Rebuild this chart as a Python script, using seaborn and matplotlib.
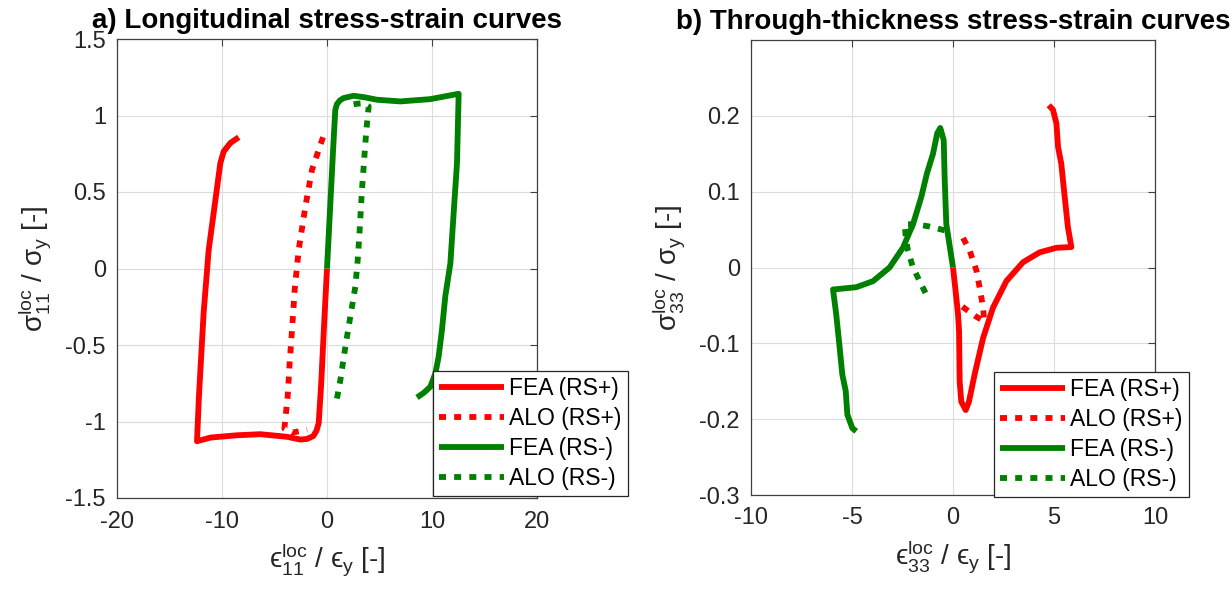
import numpy as np
import pandas as pd
import matplotlib
matplotlib.use("Agg")
import matplotlib.pyplot as plt
from matplotlib.ticker import FuncFormatter
import seaborn as sns

# ---------------- data ----------------
# a) longitudinal
a_fea_p_x = [0, -0.3, -0.55, -0.79, -1.0, -1.3, -1.9, -2.54, -3.8, -6.35, -8.57, -11.1, -12.38,
             -12.2, -11.75, -11.27, -10.8, -10.16, -9.84, -9.21, -8.41]
a_fea_p_y = [0, -0.4, -0.75, -1.01, -1.06, -1.095, -1.114, -1.118, -1.10, -1.083, -1.09, -1.105,
             -1.129, -0.84, -0.29, 0.12, 0.36, 0.688, 0.765, 0.82, 0.858]
a_alo_p_x = [-0.38, -1.43, -2.06, -2.7, -3.08, -3.33, -3.56, -3.75, -4.06, -3.33, -1.9]
a_alo_p_y = [0.858, 0.645, 0.405, 0.12, -0.14, -0.40, -0.62, -0.84, -1.046, -1.073, -1.053]
a_fea_m_x = [0, 0.3, 0.6, 0.79, 0.95, 1.25, 1.59, 2.54, 3.5, 4.76, 6.98, 9.84, 12.54,
             12.38, 12.06, 11.75, 11.27, 10.95, 10.63, 10.32, 9.84, 9.21, 8.57]
a_fea_m_y = [0, 0.4, 0.8, 1.037, 1.075, 1.10, 1.114, 1.129, 1.12, 1.103, 1.092, 1.107, 1.142,
             0.688, 0.36, 0.034, -0.18, -0.40, -0.577, -0.686, -0.773, -0.813, -0.843]
a_alo_m_x = [0.95, 1.27, 1.75, 2.22, 2.70, 2.95, 3.11, 3.33, 3.56, 3.75, 3.97, 3.49, 2.86, 1.9]
a_alo_m_y = [-0.85, -0.73, -0.51, -0.315, -0.118, 0.077, 0.252, 0.514, 0.732, 0.907, 1.06,
             1.081, 1.077, 1.064]

# b) through-thickness
b_fea_p_x = [0, 0.165, 0.25, 0.3, 0.33, 0.41, 0.63, 0.79, 1.07, 1.49, 1.98, 2.64, 3.47, 4.29,
             5.12, 5.86, 5.69, 5.53, 5.36, 5.2, 5.12, 4.95, 4.74]
b_fea_p_y = [0, -0.040, -0.062, -0.084, -0.15, -0.177, -0.188, -0.177, -0.141, -0.093, -0.053,
             -0.018, 0.007, 0.020, 0.026, 0.027, 0.053, 0.093, 0.137, 0.159, 0.19, 0.208, 0.214]
b_alo_p_x = [0.5, 0.83, 1.16, 1.35, 1.49, 1.55, 1.16, 0.74, 0.33]
b_alo_p_y = [0.039, 0.022, -0.004, -0.031, -0.053, -0.071, -0.065, -0.057, -0.049]
b_fea_m_x = [0, -0.33, -0.41, -0.46, -0.63, -0.78, -0.99, -1.29, -1.57, -1.98, -2.48, -3.14,
             -3.96, -4.79, -5.94, -5.78, -5.61, -5.48, -5.31, -5.23, -4.98, -4.79]
b_fea_m_y = [0, 0.057, 0.115, 0.168, 0.184, 0.177, 0.150, 0.124, 0.093, 0.057, 0.026, 0.0,
             -0.018, -0.026, -0.029, -0.062, -0.106, -0.141, -0.163, -0.194, -0.212, -0.216]
b_alo_m_x = [-0.41, -1.16, -1.82, -2.39, -2.34, -2.23, -1.98, -1.65, -1.24]
b_alo_m_y = [0.049, 0.054, 0.057, 0.057, 0.040, 0.022, 0.0, -0.018, -0.040]

labels = ["FEA (RS+)", "ALO (RS+)", "FEA (RS-)", "ALO (RS-)"]
titles = ["a) Longitudinal stress-strain curves", "b) Through-thickness stress-strain curves"]
a_xticks = [-20, -10, 0, 10, 20]
a_yticks = [-1.5, -1, -0.5, 0, 0.5, 1, 1.5]
b_xticks = [-10, -5, 0, 5, 10]
b_yticks = [-0.3, -0.2, -0.1, 0, 0.1, 0.2]

# ---------------- style ----------------
sns.set_style("white")
plt.rcParams["font.family"] = ["Liberation Sans", "DejaVu Sans"]
plt.rcParams["axes.unicode_minus"] = False
plt.rcParams["mathtext.fontset"] = "custom"
plt.rcParams["mathtext.rm"] = "Liberation Sans"
plt.rcParams["mathtext.it"] = "Liberation Sans"
plt.rcParams["mathtext.fallback"] = "stixsans"

RED = "#FF0000"
GREEN = "#008000"
LW = 4.2
DOT = (0, (1.2, 1.4))
TXT = "#262626"

fig = plt.figure(figsize=(12.31, 5.93), dpi=100)
axA = fig.add_axes([117 / 1231, 1 - 498 / 593, 420 / 1231, 459 / 593])
axB = fig.add_axes([751 / 1231, 1 - 495 / 593, 404 / 1231, 455 / 593])

def draw(ax, series):
    for (x, y, color, ls), lab in zip(series, labels):
        df = pd.DataFrame({"x": x, "y": y})
        sns.lineplot(data=df, x="x", y="y", sort=False, estimator=None, ax=ax,
                     color=color, linewidth=LW, linestyle=ls, label=lab,
                     solid_capstyle="butt", dash_capstyle="butt")
    h, l = ax.get_legend_handles_labels()
    if ax.get_legend() is not None:
        ax.get_legend().remove()
    return h, l

hA, lA = draw(axA, [(a_fea_p_x, a_fea_p_y, RED, "-"), (a_alo_p_x, a_alo_p_y, RED, DOT),
                    (a_fea_m_x, a_fea_m_y, GREEN, "-"), (a_alo_m_x, a_alo_m_y, GREEN, DOT)])
hB, lB = draw(axB, [(b_fea_p_x, b_fea_p_y, RED, "-"), (b_alo_p_x, b_alo_p_y, RED, DOT),
                    (b_fea_m_x, b_fea_m_y, GREEN, "-"), (b_alo_m_x, b_alo_m_y, GREEN, DOT)])

fmt = FuncFormatter(lambda v, p: ("%g" % round(v, 6)).replace("\u2212", "-"))

for ax, xt, yt, xl, yl, title in [
        (axA, a_xticks, a_yticks, (-20, 20), (-1.5, 1.5), titles[0]),
        (axB, b_xticks, b_yticks, (-10, 10), (-0.3, 0.3), titles[1])]:
    ax.set_xlim(*xl)
    ax.set_ylim(*yl)
    ax.set_xticks(xt)
    ax.set_yticks(yt)
    ax.xaxis.set_major_formatter(fmt)
    ax.yaxis.set_major_formatter(fmt)
    ax.grid(True, color="#dcdcdc", linewidth=0.8)
    ax.set_axisbelow(True)
    for s in ax.spines.values():
        s.set_color("#404040")
        s.set_linewidth(0.9)
        s.set_visible(True)
    ax.tick_params(direction="in", length=5, width=0.8, color="#404040",
                   top=True, right=True, labelsize=17, labelcolor=TXT)
    ax.tick_params(axis="x", pad=9)
    ax.tick_params(axis="y", pad=8)
    ax.set_title(title, fontsize=20, fontweight="bold", pad=8, color="black")

EPS = "\u03f5"
SIG = "\u03c3"
axA.set_xlabel("$\\mathrm{" + EPS + "^{loc}_{11}}$ / $\\mathrm{" + EPS + "_{y}}$ [-]",
               fontsize=20, color=TXT, labelpad=6)
axA.set_ylabel("$\\mathrm{" + SIG + "^{loc}_{11}}$ / $\\mathrm{" + SIG + "_{y}}$ [-]",
               fontsize=20, color=TXT, labelpad=9)
axB.set_xlabel("$\\mathrm{" + EPS + "^{loc}_{33}}$ / $\\mathrm{" + EPS + "_{y}}$ [-]",
               fontsize=20, color=TXT, labelpad=6)
axB.set_ylabel("$\\mathrm{" + SIG + "^{loc}_{33}}$ / $\\mathrm{" + SIG + "_{y}}$ [-]",
               fontsize=20, color=TXT, labelpad=9)

for ax, h, l, x0, y0 in [(axA, hA, lA, 433, 371), (axB, hB, lB, 994, 372)]:
    leg = ax.legend(h, l, loc="upper left", bbox_to_anchor=(x0 / 1231, 1 - y0 / 593),
                    bbox_transform=fig.transFigure, borderaxespad=0, fontsize=16.5,
                    frameon=True, fancybox=False, framealpha=1, edgecolor="#262626",
                    handlelength=2.8, handletextpad=0.25, labelspacing=0.3,
                    borderpad=0.28)
    leg.get_frame().set_linewidth(0.9)
    for t in leg.get_texts():
        t.set_color("black")

fig.savefig("out.png", dpi=100)
